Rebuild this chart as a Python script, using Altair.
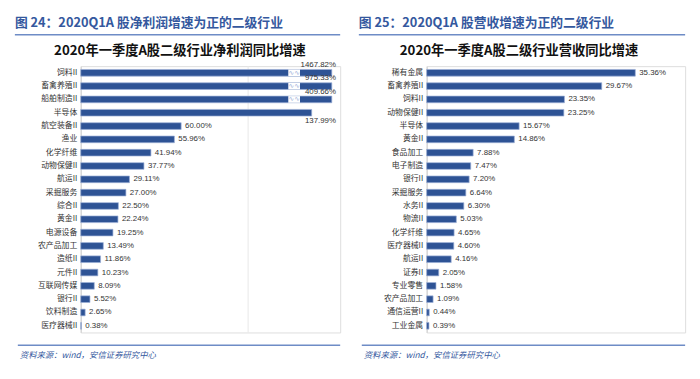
import altair as alt
import pandas as pd

# ---------------- data ----------------
left_cats = ["饲料II", "畜禽养殖II", "船舶制造II", "半导体", "航空装备II", "渔业", "化学纤维",
             "动物保健II", "航运II", "采掘服务", "综合II", "黄金II", "电源设备", "农产品加工",
             "造纸II", "元件II", "互联网传媒", "银行II", "饮料制造", "医疗器械II"]
left_vals = [1467.82, 975.33, 409.66, 137.99, 60.00, 55.96, 41.94, 37.77, 29.11, 27.00,
             22.50, 22.24, 19.25, 13.49, 11.86, 10.23, 8.09, 5.52, 2.65, 0.38]

right_cats = ["稀有金属", "畜禽养殖II", "饲料II", "动物保健II", "半导体", "黄金II", "食品加工",
              "电子制造", "银行II", "采掘服务", "水务II", "物流II", "化学纤维", "医疗器械II",
              "航运II", "证券II", "专业零售", "农产品加工", "通信运营II", "工业金属"]
right_vals = [35.36, 29.67, 23.35, 23.25, 15.67, 14.86, 7.88, 7.47, 7.20, 6.64,
              6.30, 5.03, 4.65, 4.60, 4.16, 2.05, 1.58, 1.09, 0.44, 0.39]

left_header = "图 24：2020Q1A 股净利润增速为正的二级行业"
left_title = "2020年一季度A股二级行业净利润同比增速"
right_header = "图 25：2020Q1A 股营收增速为正的二级行业"
right_title = "2020年一季度A股二级行业营收同比增速"
source_text = "资料来源：wind，安信证券研究中心"

# ---------------- style ----------------
BAR = "#2E5395"
BAR_EDGE = "#9DB0D8"
HEAD = "#34589E"
RULE = "#6E8CC6"
CJK = "Noto Sans CJK SC"
NUM = "Liberation Sans"
NUM_SIZE = 8
H = 271


def one(text):
    return pd.DataFrame({"t": [text]})


def panel(cats, vals, header, title, width, xmax, title_cx, left_ext, cap=None, grid=None):
    df = pd.DataFrame({"cat": cats, "val": vals})
    base = alt.Chart(df).transform_calculate(
        lbl="format(datum.val, '.2f') + '%'"
    )
    if cap is not None:
        base = base.transform_calculate(shown=f"min(datum.val, {cap})")
    else:
        base = base.transform_calculate(shown="datum.val")

    yenc = alt.Y(
        "cat:N", sort=cats, title=None,
        scale=alt.Scale(paddingInner=0.5, paddingOuter=0.25),
        axis=alt.Axis(labelFont=CJK, labelFontSize=8, labelColor="#333333",
                      ticks=False, domainColor="#D0D0D0", labelPadding=4,
                      grid=False, labelLimit=120),
    )
    xscale = alt.Scale(domain=[0, xmax], nice=False, zero=True)

    layers = []
    if grid is not None:
        layers.append(
            alt.Chart(pd.DataFrame({"g": [grid]})).mark_rule(color="#E8E8E8", strokeWidth=1)
            .encode(x=alt.X("g:Q", scale=xscale, axis=None))
        )

    bars = base.mark_bar(color=BAR, stroke=BAR_EDGE, strokeWidth=0.7).encode(
        x=alt.X("shown:Q", scale=xscale, axis=None),
        y=yenc,
    )
    layers.append(bars)

    if cap is not None:
        brk = base.transform_filter(f"datum.val > {cap}").transform_calculate(
            b1="124", b2="131", bm="127.5"
        )
        layers.append(
            brk.mark_bar(color="white").encode(
                x=alt.X("b1:Q", scale=xscale, axis=None), x2="b2:Q", y=yenc)
        )
        layers.append(
            brk.mark_text(text="∿∿", color=BAR_EDGE, fontSize=7, font="DejaVu Sans").encode(
                x=alt.X("bm:Q", scale=xscale, axis=None), y=yenc)
        )
        big = base.transform_calculate(lx=str(cap + 2.5))
        layers.append(
            big.transform_filter(f"datum.val > {cap}")
            .mark_text(align="right", dy=-8, font=NUM, fontSize=NUM_SIZE, color="#333333")
            .encode(x=alt.X("lx:Q", scale=xscale, axis=None), y=yenc, text="lbl:N")
        )
        layers.append(
            big.transform_filter(f"datum.val > 100 && datum.val <= {cap}")
            .mark_text(align="right", dy=8, font=NUM, fontSize=NUM_SIZE, color="#333333")
            .encode(x=alt.X("lx:Q", scale=xscale, axis=None), y=yenc, text="lbl:N")
        )
        normal = base.transform_filter("datum.val <= 100")
    else:
        normal = base

    layers.append(
        normal.mark_text(align="left", dx=4, font=NUM, fontSize=NUM_SIZE, color="#333333")
        .encode(x=alt.X("val:Q", scale=xscale, axis=None), y=yenc, text="lbl:N")
    )

    # header, rules, title, source
    layers.append(
        alt.Chart(one(header)).mark_text(align="left", baseline="middle", font=CJK,
                                          fontSize=13, fontWeight="bold", color=HEAD)
        .encode(x=alt.value(-left_ext), y=alt.value(-44), text="t:N")
    )
    layers.append(
        alt.Chart(one("r")).mark_rule(color=RULE, strokeWidth=1.5)
        .encode(x=alt.value(-left_ext), x2=alt.value(width), y=alt.value(-32))
    )
    layers.append(
        alt.Chart(one(title)).mark_text(align="center", baseline="middle", font=CJK,
                                         fontSize=13.5, fontWeight="bold", color="#111111")
        .encode(x=alt.value(title_cx), y=alt.value(-15), text="t:N")
    )
    layers.append(
        alt.Chart(one("r")).mark_rule(color=RULE, strokeWidth=1.5)
        .encode(x=alt.value(-left_ext + 3), x2=alt.value(width), y=alt.value(H + 13))
    )
    layers.append(
        alt.Chart(one(source_text)).mark_text(align="left", baseline="middle", font=CJK,
                                               fontSize=8.5, fontStyle="italic", color=HEAD)
        .encode(x=alt.value(-left_ext + 5), y=alt.value(H + 23), text="t:N")
    )

    return alt.layer(*layers).properties(width=width, height=H)


left = panel(left_cats, left_vals, left_header, left_title, width=264, xmax=155,
             title_cx=101, left_ext=67, cap=150, grid=100)
right = panel(right_cats, right_vals, right_header, right_title, width=263, xmax=43.8,
              title_cx=94, left_ext=69)

chart = alt.hconcat(left, right, spacing=15).configure_view(stroke=None).configure(
    background="white"
)

chart.save("out.html", embed_options={"renderer": "svg", "actions": False})
